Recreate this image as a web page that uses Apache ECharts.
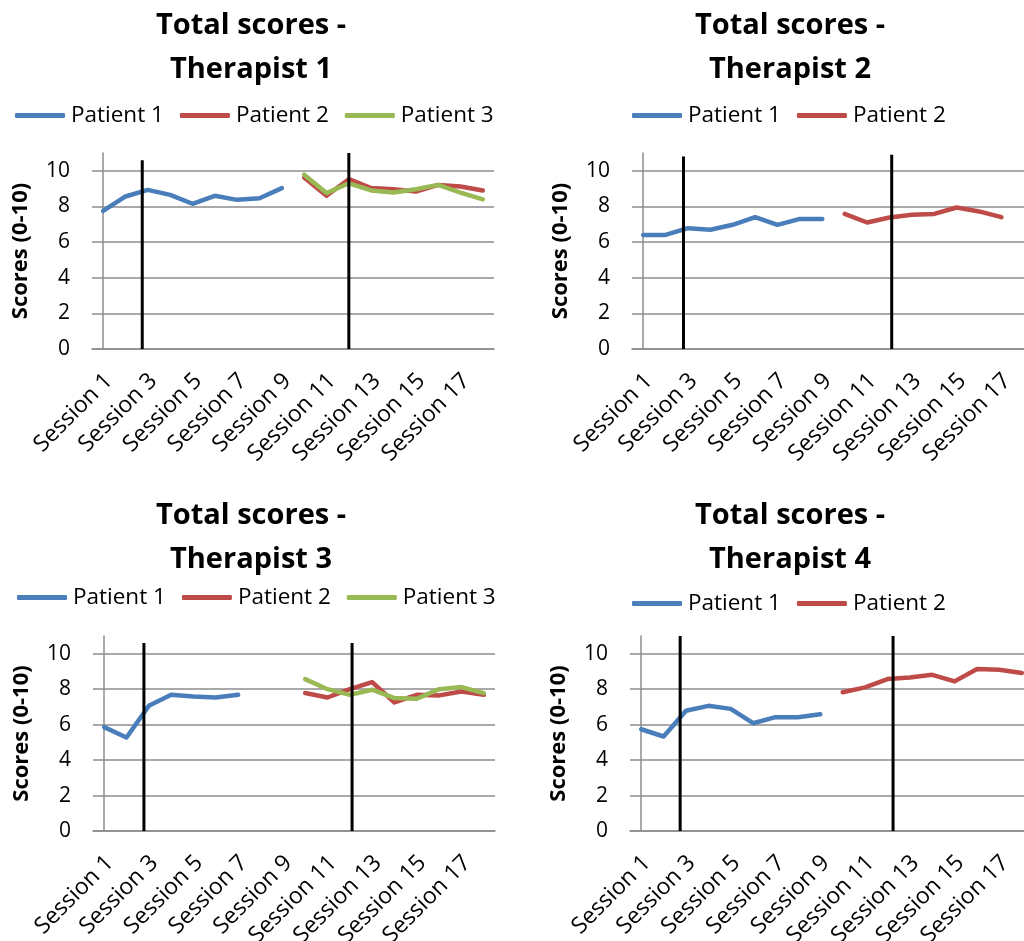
<!DOCTYPE html>
<html>
<head>
<meta charset="utf-8">
<script src="https://cdn.jsdelivr.net/npm/echarts@6/dist/echarts.min.js"></script>
<style>
html,body{margin:0;padding:0;background:#fff;}
#c{width:1024px;height:941px;}
</style>
</head>
<body>
<div id="c"></div>
<script>
// ---- data ----
const categories = ['Session 1','Session 2','Session 3','Session 4','Session 5','Session 6','Session 7','Session 8','Session 9',
  'Session 10','Session 11','Session 12','Session 13','Session 14','Session 15','Session 16','Session 17','Session 18'];
const N = null;
const titles = ['Total scores -\nTherapist 1','Total scores -\nTherapist 2','Total scores -\nTherapist 3','Total scores -\nTherapist 4'];
const patientNames = ['Patient 1','Patient 2','Patient 3'];

const t1p1 = [7.75, 8.56, 8.93, 8.65, 8.15, 8.6, 8.37, 8.46, 9.03, N, N, N, N, N, N, N, N, N];
const t1p2 = [N, N, N, N, N, N, N, N, N, 9.63, 8.6, 9.53, 9.03, 8.97, 8.84, 9.21, 9.12, 8.9];
const t1p3 = [N, N, N, N, N, N, N, N, N, 9.78, 8.75, 9.3, 8.9, 8.78, 8.97, 9.21, 8.78, 8.4];

const t2p1 = [6.4, 6.4, 6.78, 6.69, 6.97, 7.4, 6.97, 7.3, 7.3, N, N, N, N, N, N, N, N, N];
const t2p2 = [N, N, N, N, N, N, N, N, N, 7.58, 7.1, 7.38, 7.53, 7.58, 7.94, 7.72, 7.4, N];

const t3p1 = [5.86, 5.27, 7.06, 7.68, 7.59, 7.53, 7.68, N, N, N, N, N, N, N, N, N, N, N];
const t3p2 = [N, N, N, N, N, N, N, N, N, 7.78, 7.53, 8.0, 8.4, 7.25, 7.68, 7.65, 7.87, 7.68];
const t3p3 = [N, N, N, N, N, N, N, N, N, 8.57, 8.0, 7.68, 7.97, 7.5, 7.46, 8.0, 8.12, 7.78];

const t4p1 = [5.74, 5.33, 6.78, 7.06, 6.89, 6.08, 6.42, 6.42, 6.59, N, N, N, N, N, N, N, N, N];
const t4p2 = [N, N, N, N, N, N, N, N, N, 7.83, 8.1, 8.57, 8.66, 8.81, 8.44, 9.14, 9.1, 8.91];

// phase-change markers: [position (category index), top value]
const t1Phase = [[1.75, 10.6], [11.0, 11.0]];
const t2Phase = [[1.8, 10.8], [11.1, 10.9]];
const t3Phase = [[1.78, 10.6], [11.1, 10.6]];
const t4Phase = [[1.74, 11.0], [11.25, 11.0]];

const yTicks = [0, 2, 4, 6, 8, 10];

// ---- styling / layout ----
const FONT = '"Open Sans", sans-serif';
const colors = ['#4A7EBB', '#BE4B48', '#98B954'];
const grids = [
  {left: 92, top: 153, width: 402, height: 196},
  {left: 632, top: 153, width: 403, height: 196},
  {left: 93, top: 636, width: 402, height: 195},
  {left: 630, top: 636, width: 403, height: 195}
];
const titlePos = [{x: 251, y: 4}, {x: 790, y: 4}, {x: 251, y: 494}, {x: 790, y: 494}];
const legendPos = [{x: 15, y: 104}, {x: 632, y: 104}, {x: 17, y: 586}, {x: 632, y: 592}];
const chartSeries = [[t1p1, t1p2, t1p3], [t2p1, t2p2], [t3p1, t3p2, t3p3], [t4p1, t4p2]];
const phases = [t1Phase, t2Phase, t3Phase, t4Phase];

const option = {
  backgroundColor: '#fff',
  animation: false,
  textStyle: {fontFamily: FONT},
  title: [], legend: [], grid: [], xAxis: [], yAxis: [], series: []
};

const gridColor = '#8c8c8c';
grids.forEach((g, i) => {
  option.grid.push(Object.assign({containLabel: false, outerBoundsMode: 'none'}, g));
  option.title.push({
    text: titles[i], left: titlePos[i].x, top: titlePos[i].y, textAlign: 'center', padding: 0,
    textStyle: {fontFamily: FONT, fontSize: 29, fontWeight: 'bold', color: '#000', lineHeight: 44}
  });
  option.legend.push({
    data: patientNames.slice(0, chartSeries[i].length),
    left: legendPos[i].x, top: legendPos[i].y, padding: 0,
    icon: 'roundRect', itemWidth: 50, itemHeight: 5, itemGap: 16,
    textStyle: {fontFamily: FONT, fontSize: 22.5, color: '#000', padding: [0, 0, 0, 1]}
  });
  option.xAxis.push({
    type: 'category', gridIndex: i, data: categories, boundaryGap: true,
    axisLine: {lineStyle: {color: gridColor, width: 1.5}},
    axisTick: {show: false},
    axisLabel: {interval: 1, rotate: 45, fontFamily: FONT, fontSize: 23, color: '#000', margin: 34,
      padding: [0, -8, 0, 0]},
    splitLine: {show: false}
  });
  option.xAxis.push({type: 'value', gridIndex: i, min: -0.5, max: 17.5, show: false});
  option.yAxis.push({
    type: 'value', gridIndex: i, min: 0, max: 11, interval: 2,
    name: 'Scores (0-10)', nameLocation: 'middle', nameGap: 60,
    nameTextStyle: {fontFamily: FONT, fontSize: 22, fontWeight: 'bold', color: '#000'},
    axisLine: {show: true, lineStyle: {color: gridColor, width: 1.5}},
    axisTick: {show: false},
    axisLabel: {fontFamily: FONT, fontSize: 21, color: '#000', margin: 22,
      formatter: v => (yTicks.indexOf(v) >= 0 ? String(v) : '')},
    splitLine: {show: true, lineStyle: {color: [gridColor, gridColor, gridColor, gridColor, gridColor, gridColor, 'rgba(0,0,0,0)'], width: 1.5}}
  });
  chartSeries[i].forEach((d, k) => {
    option.series.push({
      type: 'line', name: patientNames[k], xAxisIndex: 2 * i, yAxisIndex: i,
      data: d, symbol: 'none', connectNulls: false, color: colors[k],
      lineStyle: {width: 4.5, color: colors[k], cap: 'round', join: 'round'}, z: 2 + k
    });
  });
  phases[i].forEach(p => {
    option.series.push({
      type: 'line', name: 'phase', xAxisIndex: 2 * i + 1, yAxisIndex: i,
      data: [[p[0], 0], [p[0], p[1]]], symbol: 'none', silent: true,
      lineStyle: {width: 3, color: '#000'}, z: 10
    });
  });
});

const chart = echarts.init(document.getElementById('c'), null, {renderer: 'canvas'});
chart.setOption(option);
</script>
</body>
</html>
